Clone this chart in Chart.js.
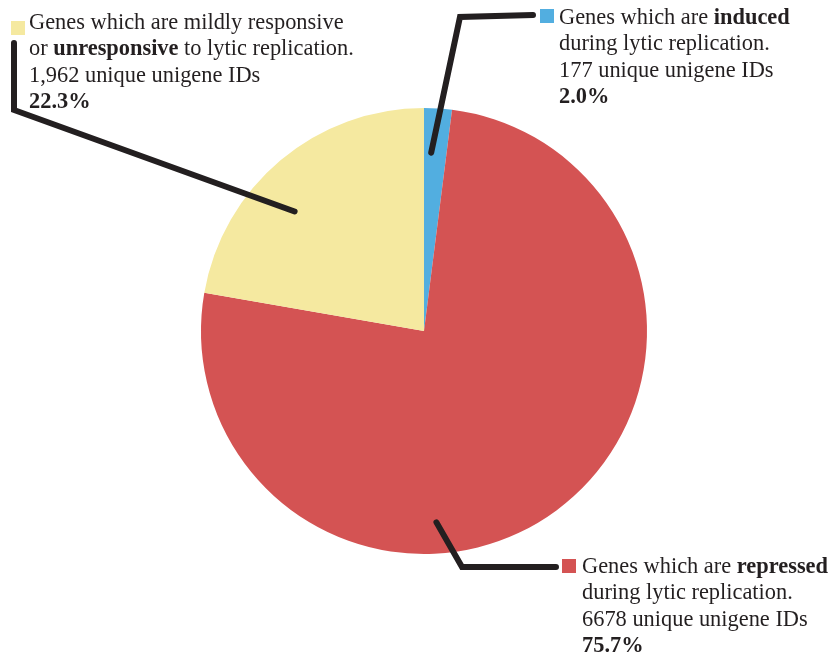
<!DOCTYPE html>
<html>
<head>
<meta charset="utf-8">
<script src="https://cdn.jsdelivr.net/npm/chart.js@4"></script>
<style>
  html, body { margin: 0; padding: 0; background: #fff; }
  #wrap { width: 829px; height: 661px; position: relative; }
</style>
</head>
<body>
<div id="wrap"><canvas id="pie"></canvas></div>
<script>
// slice order: clockwise from 12 o'clock
const categories = ['induced', 'repressed', 'unresponsive'];
const geneCounts = [177, 6678, 1962];
const countText = ['177', '6678', '1,962'];
const percentText = ['2.0%', '75.7%', '22.3%'];
const sliceColors = ['#52aee0', '#d45353', '#f5e9a0'];

// text of each callout, as [text, bold] runs per line
const calloutLines = [
  [[['Genes which are ', false], ['induced', true]],
   [['during lytic replication.', false]]],
  [[['Genes which are ', false], ['repressed', true]],
   [['during lytic replication.', false]]],
  [[['Genes which are mildly responsive', false]],
   [['or ', false], ['unresponsive', true], [' to lytic replication.', false]]]
];

// where each callout sits and how its leader bends
const callouts = [
  { anchorT: 0.32, anchorR: 0.8, bends: [[460, 17], [533, 15]], box: [540, 9], text: [559, 24] },
  { anchorT: 0.62, anchorR: 0.86, bends: [[462, 567], [556, 567]], box: [562, 559], text: [582, 573] },
  { anchorT: 0.41, anchorR: 0.79, bends: [[14, 110], [14, 43]], box: [11, 21], text: [29, 29] }
];

const FONT = '"Liberation Serif", "Times New Roman", serif';
const SIZE = 22.4;
const LINE_H = 26.3;

const calloutPlugin = {
  id: 'callouts',
  afterDraw(chart) {
    const ctx = chart.ctx;
    const arcs = chart.getDatasetMeta(0).data;
    arcs.forEach((arc, i) => {
      const c = callouts[i];
      const a = arc.startAngle + c.anchorT * (arc.endAngle - arc.startAngle);
      const r = c.anchorR * arc.outerRadius;
      const ax = arc.x + Math.cos(a) * r;
      const ay = arc.y + Math.sin(a) * r;

      ctx.save();
      ctx.strokeStyle = '#231f20';
      ctx.lineWidth = 6;
      ctx.lineCap = 'round';
      ctx.lineJoin = 'miter';
      ctx.beginPath();
      ctx.moveTo(ax, ay);
      c.bends.forEach(p => ctx.lineTo(p[0], p[1]));
      ctx.stroke();

      ctx.fillStyle = sliceColors[i];
      ctx.fillRect(c.box[0], c.box[1], 14, 14);

      const lines = calloutLines[i].concat([
        [[countText[i] + ' unique unigene IDs', false]],
        [[percentText[i], true]]
      ]);
      ctx.fillStyle = '#231f20';
      ctx.textBaseline = 'alphabetic';
      ctx.textAlign = 'left';
      lines.forEach((runs, li) => {
        let x = c.text[0];
        const y = c.text[1] + li * LINE_H;
        runs.forEach(([txt, bold]) => {
          ctx.font = (bold ? 'bold ' : '') + SIZE + 'px ' + FONT;
          ctx.fillText(txt, x, y);
          x += ctx.measureText(txt).width;
        });
      });
      ctx.restore();
    });
  }
};

new Chart(document.getElementById('pie'), {
  type: 'pie',
  data: {
    labels: categories,
    datasets: [{
      data: geneCounts,
      backgroundColor: sliceColors,
      borderWidth: 0
    }]
  },
  options: {
    responsive: true,
    maintainAspectRatio: false,
    animation: false,
    layout: { padding: { left: 201, right: 182, top: 108, bottom: 107 } },
    plugins: {
      legend: { display: false },
      tooltip: { enabled: false }
    }
  },
  plugins: [calloutPlugin]
});
</script>
</body>
</html>
